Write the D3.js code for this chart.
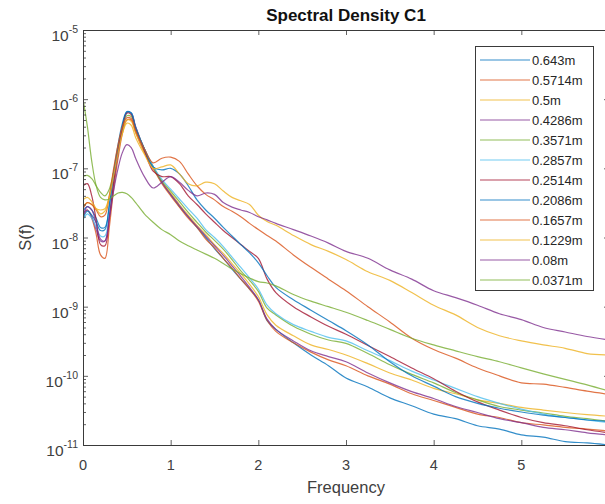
<!DOCTYPE html>
<html>
<head>
<meta charset="utf-8">
<script src="https://cdn.jsdelivr.net/npm/d3@7"></script>
<style>
  body { margin: 0; background: #fff; }
  svg { display: block; font-family: "Liberation Sans", Arial, sans-serif; }
</style>
</head>
<body>
<svg id="chart" width="605" height="504"></svg>
<script>
// frequency grid the curves were read at
var freq = [0, 0.05, 0.1, 0.15, 0.2, 0.25, 0.3, 0.35, 0.4, 0.45, 0.5, 0.55, 0.6, 0.7, 0.8, 0.9,
            1.0, 1.1, 1.2, 1.3, 1.4, 1.5, 1.6, 1.7, 1.8, 1.9, 2.0, 2.1, 2.2, 2.4, 2.6, 2.8,
            3.0, 3.25, 3.5, 3.75, 4.0, 4.25, 4.5, 4.75, 5.0, 5.25, 5.5, 5.75, 6.0];

var labels = ['0.643m', '0.5714m', '0.5m', '0.4286m', '0.3571m', '0.2857m',
              '0.2514m', '0.2086m', '0.1657m', '0.1229m', '0.08m', '0.0371m'];

var colors = ['#0072BD', '#D95319', '#EDB120', '#7E2F8E', '#77AC30', '#4DBEEE',
              '#A2142F', '#0072BD', '#D95319', '#EDB120', '#7E2F8E', '#77AC30'];

var s0643 = [2.4e-8, 2.8e-8, 2.5e-8, 1.9e-8, 1.4e-8, 1.4e-8, 2.8e-8, 7.9e-8, 2.0e-7, 4.0e-7, 6.5e-7, 6.3e-7, 4.0e-7, 1.9e-7, 1.05e-7, 6.3e-8,
             4.2e-8, 2.8e-8, 2.0e-8, 1.4e-8, 1.0e-8, 6.9e-9, 5.0e-9, 3.5e-9, 2.5e-9, 1.8e-9, 1.26e-9, 6.3e-10, 4.7e-10, 3.0e-10, 2.0e-10, 1.4e-10,
             9.3e-11, 6.9e-11, 4.8e-11, 3.7e-11, 2.8e-11, 2.4e-11, 1.9e-11, 1.7e-11, 1.4e-11, 1.3e-11, 1.12e-11, 1.07e-11, 1.0e-11];
var s05714 = [2.0e-8, 2.5e-8, 1.9e-8, 1.12e-8, 5.6e-9, 5.0e-9, 1.4e-8, 5.0e-8, 1.4e-7, 3.2e-7, 5.0e-7, 5.0e-7, 3.3e-7, 1.7e-7, 1.0e-7, 6.0e-8,
              4.0e-8, 2.75e-8, 1.9e-8, 1.4e-8, 9.5e-9, 7.1e-9, 5.0e-9, 3.6e-9, 2.5e-9, 1.8e-9, 1.2e-9, 6.3e-10, 4.4e-10, 3.0e-10, 2.2e-10, 1.7e-10,
              1.4e-10, 1.0e-10, 7.6e-11, 5.5e-11, 4.4e-11, 3.5e-11, 2.8e-11, 2.5e-11, 2.1e-11, 1.95e-11, 1.8e-11, 1.7e-11, 1.6e-11];
var s05 = [2.8e-8, 3.2e-8, 3.0e-8, 2.6e-8, 2.5e-8, 2.6e-8, 4.0e-8, 8.9e-8, 1.9e-7, 3.5e-7, 5.0e-7, 4.8e-7, 3.3e-7, 1.7e-7, 1.0e-7, 6.3e-8,
           4.4e-8, 3.0e-8, 2.1e-8, 1.5e-8, 1.1e-8, 7.9e-9, 5.9e-9, 4.2e-9, 3.0e-9, 2.1e-9, 1.4e-9, 7.6e-10, 5.4e-10, 3.8e-10, 2.8e-10, 2.4e-10,
           2.0e-10, 1.5e-10, 1.1e-10, 8.7e-11, 6.6e-11, 5.5e-11, 4.5e-11, 4.0e-11, 3.5e-11, 3.2e-11, 2.95e-11, 2.75e-11, 2.6e-11];
var s04286 = [2.2e-8, 2.5e-8, 2.0e-8, 1.3e-8, 8.9e-9, 8.9e-9, 2.0e-8, 6.3e-8, 1.66e-7, 3.8e-7, 6.3e-7, 6.3e-7, 4.0e-7, 1.9e-7, 1.05e-7, 6.3e-8,
              4.2e-8, 2.9e-8, 2.0e-8, 1.45e-8, 1.05e-8, 7.6e-9, 5.5e-9, 3.9e-9, 2.75e-9, 1.9e-9, 1.26e-9, 6.6e-10, 4.7e-10, 3.2e-10, 2.3e-10, 1.9e-10,
              1.6e-10, 1.1e-10, 7.9e-11, 5.9e-11, 4.7e-11, 3.6e-11, 2.95e-11, 2.4e-11, 2.1e-11, 1.8e-11, 1.66e-11, 1.5e-11, 1.4e-11];
var s03571 = [7.6e-8, 7.9e-8, 7.1e-8, 5.6e-8, 4.5e-8, 4.0e-8, 5.0e-8, 8.9e-8, 1.9e-7, 3.8e-7, 5.75e-7, 5.6e-7, 3.8e-7, 1.9e-7, 1.05e-7, 6.6e-8,
              4.7e-8, 3.3e-8, 2.3e-8, 1.66e-8, 1.2e-8, 9.1e-9, 6.8e-9, 4.8e-9, 3.3e-9, 2.4e-9, 1.66e-9, 9.5e-10, 7.6e-10, 5.2e-10, 4.0e-10, 3.3e-10,
              2.95e-10, 2.1e-10, 1.45e-10, 1.05e-10, 7.9e-11, 5.75e-11, 4.5e-11, 3.6e-11, 3.2e-11, 2.9e-11, 2.6e-11, 2.4e-11, 2.2e-11];
var s02857 = [1.8e-8, 2.2e-8, 1.9e-8, 1.4e-8, 1.05e-8, 1.05e-8, 2.2e-8, 7.1e-8, 1.8e-7, 4.0e-7, 6.3e-7, 6.3e-7, 3.8e-7, 1.9e-7, 1.07e-7, 6.9e-8,
              5.0e-8, 3.6e-8, 2.6e-8, 1.9e-8, 1.3e-8, 1.0e-8, 7.4e-9, 5.2e-9, 3.7e-9, 2.6e-9, 1.8e-9, 1.05e-9, 7.9e-10, 5.5e-10, 4.4e-10, 3.6e-10,
              3.2e-10, 2.3e-10, 1.66e-10, 1.17e-10, 8.7e-11, 6.6e-11, 5.0e-11, 4.0e-11, 3.3e-11, 2.8e-11, 2.5e-11, 2.3e-11, 2.1e-11];
var s02514 = [5.6e-8, 6.0e-8, 4.0e-8, 1.8e-8, 7.9e-9, 7.6e-9, 1.9e-8, 6.3e-8, 1.8e-7, 4.0e-7, 6.3e-7, 6.0e-7, 3.8e-7, 1.8e-7, 9.1e-8, 7.6e-8,
              7.6e-8, 6.0e-8, 4.0e-8, 3.0e-8, 2.2e-8, 1.66e-8, 1.26e-8, 1.0e-8, 7.9e-9, 6.3e-9, 5.0e-9, 2.5e-9, 1.6e-9, 1.0e-9, 7.1e-10, 5.2e-10,
              4.0e-10, 2.75e-10, 1.9e-10, 1.3e-10, 9.1e-11, 6.0e-11, 4.2e-11, 3.2e-11, 2.5e-11, 2.1e-11, 1.9e-11, 1.66e-11, 1.5e-11];
var s02086 = [1.9e-8, 2.4e-8, 2.1e-8, 1.66e-8, 1.26e-8, 1.3e-8, 3.0e-8, 8.9e-8, 2.2e-7, 4.5e-7, 6.6e-7, 6.3e-7, 3.8e-7, 1.9e-7, 1.05e-7, 9.5e-8,
              1.0e-7, 8.3e-8, 5.6e-8, 3.5e-8, 2.5e-8, 1.9e-8, 1.4e-8, 1.05e-8, 7.9e-9, 6.0e-9, 4.3e-9, 2.8e-9, 1.9e-9, 1.26e-9, 8.9e-10, 6.3e-10,
              4.5e-10, 2.8e-10, 1.6e-10, 1.0e-10, 7.1e-11, 5.0e-11, 4.0e-11, 3.4e-11, 3.0e-11, 2.7e-11, 2.5e-11, 2.3e-11, 2.2e-11];
var s01657 = [2.6e-8, 3.2e-8, 3.0e-8, 2.5e-8, 2.0e-8, 2.1e-8, 4.0e-8, 1.0e-7, 2.2e-7, 4.0e-7, 5.4e-7, 5.25e-7, 3.5e-7, 1.9e-7, 1.2e-7, 1.4e-7,
              1.45e-7, 1.26e-7, 8.3e-8, 5.6e-8, 4.2e-8, 3.5e-8, 2.8e-8, 2.4e-8, 2.0e-8, 1.6e-8, 1.3e-8, 1.07e-8, 8.9e-9, 5.6e-9, 3.7e-9, 2.5e-9,
              1.7e-9, 1.0e-9, 6.0e-10, 3.5e-10, 2.4e-10, 1.8e-10, 1.3e-10, 1.0e-10, 7.9e-11, 7.6e-11, 6.8e-11, 6.0e-11, 5.4e-11];
var s01229 = [3.5e-8, 3.8e-8, 3.3e-8, 2.6e-8, 2.2e-8, 2.4e-8, 3.8e-8, 7.9e-8, 1.66e-7, 3.2e-7, 4.5e-7, 4.2e-7, 2.8e-7, 1.6e-7, 1.0e-7, 1.05e-7,
              1.12e-7, 8.3e-8, 6.0e-8, 5.6e-8, 6.3e-8, 6.0e-8, 4.7e-8, 3.8e-8, 3.4e-8, 3.0e-8, 2.1e-8, 1.7e-8, 1.5e-8, 1.07e-8, 7.9e-9, 6.3e-9,
              4.8e-9, 3.2e-9, 2.4e-9, 1.6e-9, 1.05e-9, 7.6e-10, 5.0e-10, 3.8e-10, 3.2e-10, 2.8e-10, 2.5e-10, 2.1e-10, 2.0e-10];
var s008 = [2.0e-8, 2.8e-8, 2.5e-8, 1.6e-8, 9.5e-9, 8.9e-9, 1.9e-8, 4.8e-8, 1.0e-7, 1.7e-7, 2.2e-7, 2.0e-7, 1.4e-7, 7.6e-8, 5.2e-8, 6.3e-8,
            7.6e-8, 6.3e-8, 4.8e-8, 4.0e-8, 4.4e-8, 4.2e-8, 3.2e-8, 2.75e-8, 2.5e-8, 2.3e-8, 2.0e-8, 1.8e-8, 1.6e-8, 1.3e-8, 1.05e-8, 8.3e-9,
            6.3e-9, 5.0e-9, 3.4e-9, 2.5e-9, 1.7e-9, 1.35e-9, 1.05e-9, 7.9e-10, 6.5e-10, 5.0e-10, 4.3e-10, 3.7e-10, 3.3e-10];
var s00371 = [1.0e-6, 4.0e-7, 1.26e-7, 5.6e-8, 3.8e-8, 3.5e-8, 3.6e-8, 4.0e-8, 4.4e-8, 4.5e-8, 4.3e-8, 3.8e-8, 3.2e-8, 2.2e-8, 1.66e-8, 1.3e-8,
              1.1e-8, 8.9e-9, 7.6e-9, 6.6e-9, 5.75e-9, 5.0e-9, 4.2e-9, 3.5e-9, 3.0e-9, 2.6e-9, 2.3e-9, 2.2e-9, 2.0e-9, 1.5e-9, 1.2e-9, 1.0e-9,
              8.3e-10, 6.3e-10, 4.7e-10, 3.5e-10, 2.8e-10, 2.3e-10, 1.9e-10, 1.6e-10, 1.3e-10, 1.07e-10, 8.9e-11, 7.4e-11, 6.0e-11];

var series = [s0643, s05714, s05, s04286, s03571, s02857, s02514, s02086, s01657, s01229, s008, s00371];

var xTicks = [0, 1, 2, 3, 4, 5, 6];
var yMajor = [1e-11, 1e-10, 1e-9, 1e-8, 1e-7, 1e-6, 1e-5];
var yExp = ['-11', '-10', '-9', '-8', '-7', '-6', '-5'];

(function() {

    var W = 605, H = 504,
        pL = 83, pT = 30, pR = 609, pB = 445, // plot box (right edge is cut by the window)
        axisCol = '#3a3a3a';

    var x = d3.scaleLinear().domain([0, 6]).range([pL, pR]);
    var y = d3.scaleLog().domain([1e-11, 1e-5]).range([pB, pT]);

    var svg = d3.select('#chart');
    svg.append('rect').attr('width', W).attr('height', H).attr('fill', '#fff');

    svg.append('clipPath').attr('id', 'clip')
        .append('rect')
        .attr('x', pL).attr('y', pT)
        .attr('width', pR - pL).attr('height', pB - pT);

    // curves
    var line = d3.line()
        .x(function(d, i) { return x(freq[i]); })
        .y(function(d) { return y(d); })
        .curve(d3.curveCatmullRom.alpha(0.5));

    svg.append('g')
        .attr('clip-path', 'url(#clip)')
        .selectAll('path')
        .data(series)
        .enter()
        .append('path')
        .attr('d', line)
        .attr('fill', 'none')
        .attr('stroke', function(d, i) { return colors[i]; })
        .attr('stroke-width', 1.2)
        .attr('stroke-opacity', 0.8)
        .attr('stroke-linejoin', 'round');

    // axes (ticks point inwards, MATLAB style)
    var minor = y.ticks().filter(function(v) { return yMajor.indexOf(v) < 0; });

    function styleAxis(g) {
        g.select('.domain').attr('stroke', axisCol).attr('stroke-width', 1);
        g.selectAll('.tick line').attr('stroke', axisCol).attr('stroke-width', 0.8);
        g.selectAll('.tick text').remove();
    }

    svg.append('g').attr('transform', 'translate(0,' + pB + ')')
        .call(d3.axisBottom(x).tickValues(xTicks).tickSizeInner(-5).tickSizeOuter(0))
        .call(styleAxis);
    svg.append('g').attr('transform', 'translate(0,' + pT + ')')
        .call(d3.axisTop(x).tickValues(xTicks).tickSizeInner(-5).tickSizeOuter(0))
        .call(styleAxis);
    svg.append('g').attr('transform', 'translate(' + pL + ',0)')
        .call(d3.axisLeft(y).tickValues(yMajor).tickSizeInner(-5).tickSizeOuter(0))
        .call(styleAxis);
    svg.append('g').attr('transform', 'translate(' + pL + ',0)')
        .call(d3.axisLeft(y).tickValues(minor).tickSizeInner(-3).tickSizeOuter(0))
        .call(styleAxis);
    svg.append('g').attr('transform', 'translate(' + pR + ',0)')
        .call(d3.axisRight(y).tickValues(yMajor).tickSizeInner(-5).tickSizeOuter(0))
        .call(styleAxis);

    // tick labels
    svg.append('g').selectAll('text')
        .data(xTicks)
        .enter()
        .append('text')
        .attr('x', function(d) { return x(d); })
        .attr('y', 470)
        .attr('text-anchor', 'middle')
        .attr('font-size', 14.5)
        .attr('fill', '#404040')
        .text(function(d) { return d; });

    var yl = svg.append('g').selectAll('text')
        .data(yMajor)
        .enter()
        .append('text')
        .attr('x', 78)
        .attr('y', function(d) { return y(d) + 11; })
        .attr('text-anchor', 'end')
        .attr('fill', '#404040');
    yl.append('tspan').attr('font-size', 15.5).text('10');
    yl.append('tspan').attr('font-size', 10.5).attr('dy', -8)
        .text(function(d, i) { return yExp[i]; });

    // titles
    svg.append('text')
        .attr('x', (pL + pR) / 2).attr('y', 21)
        .attr('text-anchor', 'middle')
        .attr('font-size', 17).attr('font-weight', 'bold')
        .attr('fill', '#111')
        .text('Spectral Density C1');

    svg.append('text')
        .attr('x', (pL + pR) / 2).attr('y', 493)
        .attr('text-anchor', 'middle')
        .attr('font-size', 16.5)
        .attr('fill', '#404040')
        .text('Frequency');

    svg.append('text')
        .attr('transform', 'translate(31,' + (pT + pB) / 2 + ') rotate(-90)')
        .attr('text-anchor', 'middle')
        .attr('font-size', 16.5)
        .attr('fill', '#404040')
        .text('S(f)');

    // legend
    var lg = svg.append('g');
    lg.append('rect')
        .attr('x', 475.5).attr('y', 46.5)
        .attr('width', 118).attr('height', 244)
        .attr('fill', '#fff')
        .attr('stroke', axisCol).attr('stroke-width', 1);

    var item = lg.selectAll('g.item')
        .data(labels)
        .enter()
        .append('g')
        .attr('class', 'item')
        .attr('transform', function(d, i) { return 'translate(0,' + (60 + i * 20) + ')'; });
    item.append('line')
        .attr('x1', 480).attr('x2', 530)
        .attr('stroke', function(d, i) { return colors[i]; })
        .attr('stroke-width', 1.2)
        .attr('stroke-opacity', 0.8);
    item.append('text')
        .attr('x', 532).attr('y', 4.5)
        .attr('font-size', 13)
        .attr('fill', '#262626')
        .text(function(d) { return d; });

})();
</script>
</body>
</html>
